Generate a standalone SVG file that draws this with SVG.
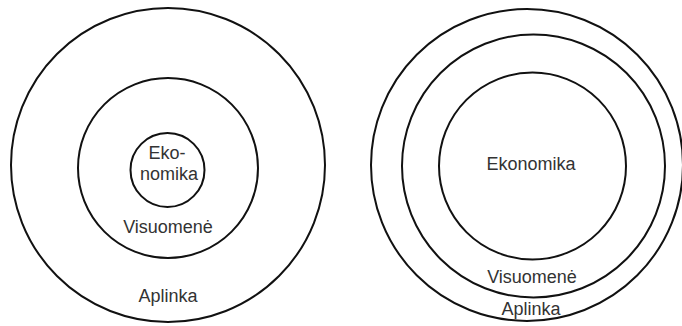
<svg xmlns="http://www.w3.org/2000/svg" width="682" height="326" viewBox="0 0 682 326">
<style>
.c{fill:none;stroke:#111;stroke-width:2}
.t{font-family:"Liberation Sans",Arial,sans-serif;font-size:18px;fill:#333;text-anchor:middle}
</style>
<rect width="682" height="326" fill="#fff"/>
<g id="left">
<g id="l-aplinka"><circle class="c" cx="168" cy="165" r="157"/><text class="t" x="168" y="302">Aplinka</text></g>
<g id="l-visuomene"><circle class="c" cx="168" cy="168" r="90"/><text class="t" x="168" y="233">Visuomenė</text></g>
<g id="l-ekonomika"><circle class="c" cx="167.5" cy="170" r="37"/><text class="t" x="167" y="159">Eko-</text><text class="t" x="169" y="180">nomika</text></g>
</g>
<g id="right">
<g id="r-aplinka"><circle class="c" cx="527" cy="165" r="156"/><text class="t" x="531" y="315">Aplinka</text></g>
<g id="r-visuomene"><circle class="c" cx="533.5" cy="166" r="131.5"/><text class="t" x="532" y="283">Visuomenė</text></g>
<g id="r-ekonomika"><circle class="c" cx="532.5" cy="166" r="93.5"/><text class="t" x="531" y="170">Ekonomika</text></g>
</g>
<g id="connectors"/>
</svg>
